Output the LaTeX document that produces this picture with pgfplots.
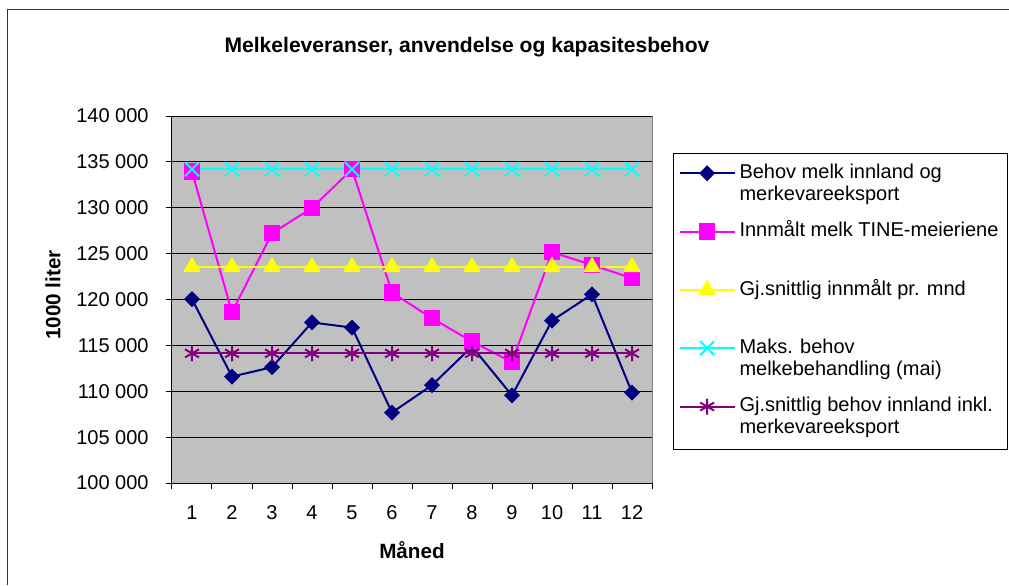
\documentclass[border=0pt]{standalone}
\usepackage{pgfplots}
\pgfplotsset{compat=1.18}
\usepackage{fontspec}
\setmainfont{Liberation Sans}
\definecolor{silver}{HTML}{C0C0C0}
\definecolor{cnavy}{HTML}{000080}
\definecolor{cmag}{HTML}{FF00FF}
\definecolor{cyel}{HTML}{FFFF00}
\definecolor{ccyan}{HTML}{00FFFF}
\definecolor{cpurp}{HTML}{800080}
\newcommand{\twol}[2]{\vtop{\hbox{#1}\hbox{#2}}}
\begin{document}
\begin{tikzpicture}
\begin{axis}[
  at={(0,0)}, anchor=south west,
  scale only axis, width=360pt, height=275.25pt,
  xmin=0.5, xmax=12.5, ymin=100000, ymax=140000,
  xtick={0.5,1.5,...,12.5}, x tick label as interval,
  xticklabels={1,2,3,4,5,6,7,8,9,10,11,12},
  ytick={100000,105000,...,140000},
  yticklabels={100 000,105 000,110 000,115 000,120 000,125 000,130 000,135 000,140 000},
  scaled y ticks=false,
  tick pos=left, tick align=outside, major tick length=4.5pt,
  tick style={black, line width=0.75pt},
  ymajorgrids, major grid style={black, line width=0.75pt},
  axis lines*=left, axis line style={black, line width=0.75pt, -},
  axis background/.style={fill=silver, draw=gray, line width=0.75pt},
  every tick label/.append style={font=\fontsize{15}{18}\selectfont},
  yticklabel style={xshift=-9.5pt},
  xticklabel style={yshift=-9pt},
  /pgf/number format/assume math mode=true,
  title={Melkeleveranser, anvendelse og kapasitesbehov},
  title style={at={(0.6146,1.166)}, anchor=center, font=\bfseries\fontsize{15.8}{18}\selectfont},
  xlabel={Måned},
  xlabel style={at={(0.5,-0.1826)}, anchor=center, font=\bfseries\fontsize{15.5}{18}\selectfont},
  ylabel={1000 liter},
  ylabel style={at={(-0.248,0.512)}, anchor=center, rotate=0, font=\bfseries\fontsize{15.5}{18}\selectfont},
  legend style={at={(1.04375,0.899)}, anchor=north west, draw=black, line width=0.75pt,
    fill=white, inner xsep=4pt, inner ysep=1.5pt, row sep=0pt,
    nodes={anchor=base west, font=\fontsize{15}{16.5}\selectfont, text height=17.25pt, text depth=26.5pt, inner sep=0pt, inner xsep=3pt}},
  legend image code/.code={
    \draw[#1, yshift=4pt] (0pt,0pt) -- (41pt,0pt);
    \draw[#1, yshift=4pt, only marks] plot coordinates {(20.5pt,0pt)};
  },
]
\addplot[cnavy, line width=1.5pt, mark=square*, mark size=3.5pt, mark options={rotate=45, solid, fill=cnavy}]
  coordinates {(1,120030) (2,111600) (3,112620) (4,117500) (5,116940) (6,107680) (7,110660) (8,114870) (9,109540) (10,117700) (11,120570) (12,109860)};
\addlegendentry{\twol{Behov melk innland og}{merkevareeksport}}
\addplot[cmag, line width=1.5pt, mark=square*, mark size=5.4pt, mark options={solid, fill=cmag}]
  coordinates {(1,133930) (2,118610) (3,127220) (4,129980) (5,134200) (6,120750) (7,117960) (8,115420) (9,113170) (10,125150) (11,123770) (12,122320)};
\addlegendentry{Innmålt melk TINE-meieriene}
\addplot[cyel, line width=1.5pt, mark=triangle*, mark size=6.3pt, mark options={solid, fill=cyel}]
  coordinates {(1,123540) (2,123540) (3,123540) (4,123540) (5,123540) (6,123540) (7,123540) (8,123540) (9,123540) (10,123540) (11,123540) (12,123540)};
\addlegendentry{Gj.snittlig innmålt pr. mnd}
\addplot[ccyan, line width=1.5pt, mark=x, mark size=7.5pt, mark options={solid, line width=1.5pt}]
  coordinates {(1,134200) (2,134200) (3,134200) (4,134200) (5,134200) (6,134200) (7,134200) (8,134200) (9,134200) (10,134200) (11,134200) (12,134200)};
\addlegendentry{\twol{Maks. behov}{melkebehandling (mai)}}
\addplot[cpurp, line width=1.5pt, mark=asterisk, mark size=6pt, mark options={solid, line width=1.5pt}]
  coordinates {(1,114130) (2,114130) (3,114130) (4,114130) (5,114130) (6,114130) (7,114130) (8,114130) (9,114130) (10,114130) (11,114130) (12,114130)};
\addlegendentry{\twol{Gj.snittlig behov innland inkl.}{merkevareeksport}}
\end{axis}
\draw[line width=0.75pt, black!80] (627.75pt,354.75pt) -- (-123pt,354.75pt) -- (-123pt,-76.5pt);
\pgfresetboundingbox
\path[use as bounding box] (-129pt,-76.5pt) rectangle (627.75pt,362.25pt);
\end{tikzpicture}
\end{document}
